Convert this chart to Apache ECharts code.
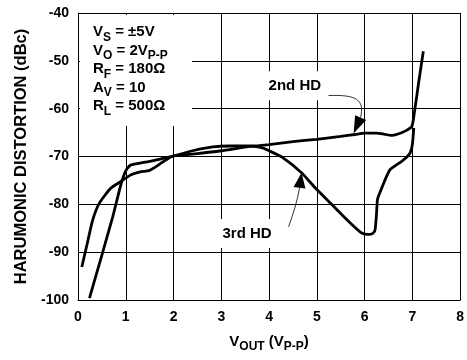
<!DOCTYPE html>
<html>
<head>
<meta charset="utf-8">
<script src="https://cdn.jsdelivr.net/npm/echarts@6/dist/echarts.min.js"></script>
<style>
  html, body { margin: 0; padding: 0; background: #fff; }
  #chart { width: 467px; height: 360px; }
</style>
</head>
<body>
<div id="chart"></div>
<script>
// x ticks (V p-p) and y ticks (dBc)
var xTicks = [0, 1, 2, 3, 4, 5, 6, 7, 8];
var yTicks = [-100, -90, -80, -70, -60, -50, -40];

// [Vout, dBc]
var secondHD = [
    [0.24, -99.6], [0.5, -90.6], [0.73, -82.5], [0.9, -75.8], [1.0, -73.0], [1.1, -71.8],
    [1.4, -71.2], [1.7, -70.6], [2.0, -69.9], [2.5, -69.4], [3.0, -68.8], [3.6, -67.9],
    [4.0, -67.5], [4.5, -66.9], [5.0, -66.4], [5.5, -65.8], [5.8, -65.4], [6.0, -65.1],
    [6.25, -65.1], [6.4, -65.3], [6.57, -65.6], [6.7, -65.3], [6.85, -64.7], [6.99, -63.7],
    [7.05, -60.3], [7.13, -54.7], [7.23, -48.0]
];
var thirdHD = [
    [0.08, -93.1], [0.2, -87.9], [0.31, -83.2], [0.45, -79.7], [0.69, -76.6], [0.9, -75.2],
    [1.11, -73.8], [1.3, -73.2], [1.5, -72.9], [1.71, -71.6], [1.92, -70.2], [2.0, -69.9],
    [2.4, -68.8], [2.82, -68.0], [3.17, -67.8], [3.65, -67.8], [3.86, -68.2], [4.0, -68.8],
    [4.28, -70.2], [4.69, -73.5], [4.97, -76.6], [5.32, -80.1], [5.67, -83.6], [5.94, -86.0],
    [6.08, -86.3], [6.18, -86.0], [6.22, -85.3], [6.25, -82.0], [6.27, -79.0], [6.33, -77.3],
    [6.53, -72.8], [6.78, -71.0], [6.95, -69.3], [7.0, -67.5], [7.03, -64.0]
];

var FONT = "'Liberation Sans', Arial, sans-serif";
var subStyle = { font: "bold 12px " + FONT, fill: "#000", verticalAlign: "bottom", lineHeight: 10, padding: [0, 0, -2, 0] };

var chart = echarts.init(document.getElementById("chart"));
chart.setOption({
    animation: false,
    backgroundColor: "#fff",
    textStyle: { fontFamily: FONT },
    grid: { left: 78, right: 5, top: 13, bottom: 60 },
    xAxis: {
        type: "value",
        min: xTicks[0],
        max: xTicks[xTicks.length - 1],
        interval: 1,
        name: "V{s|OUT} (V{s|P-P})",
        nameLocation: "middle",
        nameGap: 34,
        nameTextStyle: {
            fontFamily: FONT, fontSize: 15, fontWeight: "bold", color: "#000",
            rich: {
                s: { fontFamily: FONT, fontSize: 12, fontWeight: "bold", color: "#000", verticalAlign: "bottom", lineHeight: 10, padding: [0, 0, -4, 0] }
            }
        },
        axisLine: { lineStyle: { color: "#000", width: 1 } },
        axisTick: { show: false },
        axisLabel: { color: "#000", fontSize: 14, fontWeight: "bold", margin: 10, fontFamily: FONT },
        splitLine: { show: true, lineStyle: { color: "#000", width: 1 } }
    },
    yAxis: {
        type: "value",
        min: yTicks[0],
        max: yTicks[yTicks.length - 1],
        interval: 10,
        name: "HARUMONIC DISTORTION (dBc)",
        nameLocation: "middle",
        nameGap: 47,
        nameTextStyle: { fontFamily: FONT, fontSize: 16.5, fontWeight: "bold", color: "#000" },
        axisLine: { show: true, lineStyle: { color: "#000", width: 1 } },
        axisTick: { show: false },
        axisLabel: { color: "#000", fontSize: 14, fontWeight: "bold", margin: 9, fontFamily: FONT },
        splitLine: { show: true, lineStyle: { color: "#000", width: 1 } }
    },
    series: [
        {
            name: "2nd HD",
            type: "line",
            data: secondHD,
            showSymbol: false,
            smooth: 0.2,
            lineStyle: { color: "#000", width: 2.8 },
            z: 5
        },
        {
            name: "3rd HD",
            type: "line",
            data: thirdHD,
            showSymbol: false,
            smooth: 0.2,
            lineStyle: { color: "#000", width: 2.8 },
            z: 5
        }
    ]
});

// annotations: condition box, labels and arrows placed via the axes
function px(p) { return chart.convertToPixel({ gridIndex: 0 }, p); }

function arrow(tipData, baseOff, lineOff) {
    var t = px(tipData);
    var bx = t[0] + baseOff[0], by = t[1] + baseOff[1];
    var dx = t[0] - bx, dy = t[1] - by, len = Math.sqrt(dx * dx + dy * dy);
    var nx = -dy / len * 6, ny = dx / len * 6;
    return [
        {
            type: "polygon", z: 20,
            shape: { points: [[t[0], t[1]], [bx + nx, by + ny], [bx - nx, by - ny]] },
            style: { fill: "#000" }
        },
        {
            type: "bezierCurve", z: 20,
            shape: {
                x1: bx, y1: by,
                cpx1: t[0] + lineOff[0][0], cpy1: t[1] + lineOff[0][1],
                cpx2: t[0] + lineOff[1][0], cpy2: t[1] + lineOff[1][1],
                x2: t[0] + lineOff[2][0], y2: t[1] + lineOff[2][1]
            },
            style: { stroke: "#000", lineWidth: 0.8, fill: null }
        }
    ];
}

function label(pos, str) {
    var p = px(pos);
    return {
        type: "text", z: 15, x: p[0], y: p[1],
        style: {
            text: str, fill: "#000", font: "bold 15px " + FONT,
            align: "center", verticalAlign: "middle",
            backgroundColor: "#fff", padding: [7, 8, 7, 8]
        }
    };
}

var corner = px([0, -40]);
var graphics = [
    {
        type: "rect", z: 15,
        shape: { x: corner[0] + 2, y: corner[1] + 2, width: 112, height: 111 },
        style: { fill: "#fff" }
    },
    {
        type: "text", z: 16, x: corner[0] + 15, y: corner[1] + 10,
        style: {
            text: "V{s|S} = ±5V\nV{s|O} = 2V{s|P-P}\nR{s|F} = 180Ω\nA{s|V} = 10\nR{s|L} = 500Ω",
            fill: "#000", font: "bold 15px " + FONT, lineHeight: 18.5,
            rich: { s: subStyle }
        }
    },
    label([4.54, -55.2], "2nd HD"),
    label([3.54, -86.1], "3rd HD")
];
graphics = graphics
    .concat(arrow([5.77, -65.2], [7, -16], [[11, -34], [3, -39], [-25, -38]]))
    .concat(arrow([4.68, -73.4], [-2, 15], [[-4, 28], [-9, 43], [-13, 54]]));

chart.setOption({ graphic: graphics });
</script>
</body>
</html>
